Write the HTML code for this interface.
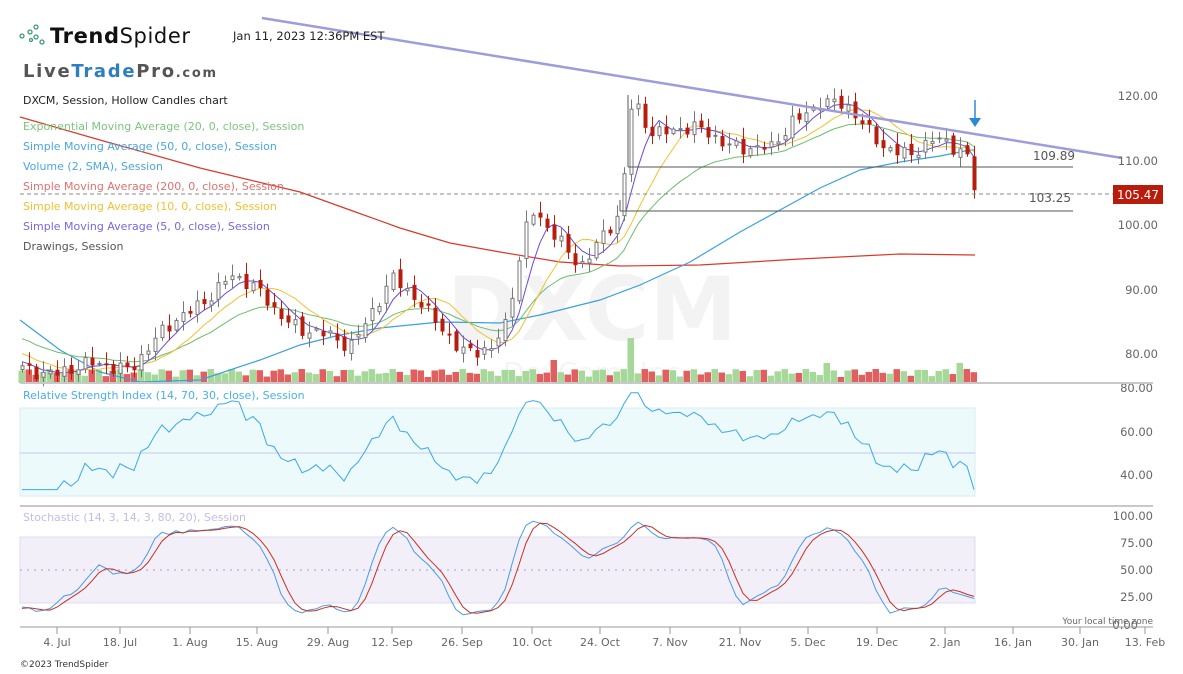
<!DOCTYPE html>
<html><head><meta charset="utf-8"><style>
body{margin:0;background:#fff;width:1183px;height:674px;overflow:hidden;font-family:"DejaVu Sans","Liberation Sans",sans-serif}
svg{display:block}
</style></head><body>
<svg id="s" width="1183" height="674" xmlns="http://www.w3.org/2000/svg" font-family="DejaVu Sans, Liberation Sans, sans-serif">
<rect width="1183" height="674" fill="#fff"/>
<text x="592" y="340" font-size="88" font-weight="bold" fill="#f3f3f3" text-anchor="middle">DXCM</text>
<text x="592" y="382" font-size="28" fill="#f5f5f5" text-anchor="middle">DexCom, Inc</text>
<rect x="20" y="408" width="955" height="88" fill="#ecfafb" stroke="#d8eef2"/>
<line x1="20" y1="453" x2="975" y2="453" stroke="#c8c8ee"/>
<rect x="20" y="537" width="955" height="66" fill="#f2eff9" stroke="#e0dbef"/>
<line x1="20" y1="570" x2="975" y2="570" stroke="#a89ee0" stroke-dasharray="2,5"/>
<g id="g"></g>
<line x1="262" y1="18" x2="1122" y2="158" stroke="#9d9ddb" stroke-width="2.5"/>
<line x1="628" y1="167" x2="1073" y2="167" stroke="#555"/>
<line x1="628" y1="167" x2="628" y2="95" stroke="#555"/>
<line x1="620" y1="211" x2="1073" y2="211" stroke="#555"/>
<line x1="620" y1="211" x2="620" y2="200" stroke="#555"/>
<line x1="20" y1="194" x2="1113" y2="194" stroke="#888" stroke-dasharray="4,3"/>
<line x1="975" y1="100" x2="975" y2="122" stroke="#2a8ad4" stroke-width="1.5"/>
<polygon points="969,118 981,118 975,127" fill="#2a8ad4"/>
<text x="1054" y="160" font-size="12" fill="#555" text-anchor="middle">109.89</text>
<text x="1050" y="202" font-size="12" fill="#555" text-anchor="middle">103.25</text>
<rect x="1113" y="185" width="50" height="19" fill="#b71c0c"/>
<text x="1138" y="199" font-size="12" fill="#fff" text-anchor="middle">105.47</text>
<g font-size="11.5" fill="#666" text-anchor="end">
<text x="1158" y="100">120.00</text><text x="1158" y="165">110.00</text><text x="1158" y="229">100.00</text><text x="1158" y="294">90.00</text><text x="1158" y="358">80.00</text>
<text x="1153" y="392">80.00</text><text x="1153" y="436">60.00</text><text x="1153" y="479">40.00</text>
<text x="1153" y="520">100.00</text><text x="1153" y="547">75.00</text><text x="1153" y="574">50.00</text><text x="1153" y="601">25.00</text><text x="1138" y="629">0.00</text>
</g>
<line x1="20" y1="383" x2="1153" y2="383" stroke="#c8c8c8" stroke-width="2"/>
<line x1="20" y1="506" x2="1153" y2="506" stroke="#c8c8c8" stroke-width="2"/>
<line x1="20" y1="627" x2="1153" y2="627" stroke="#999"/>
<g id="ax" font-size="11" fill="#666" text-anchor="middle"></g>
<text x="1153" y="624" font-size="9" fill="#666" text-anchor="end">Your local time zone</text>
<text x="20" y="667" font-size="9" fill="#333">©2023 TrendSpider</text>
<g fill="none" stroke="#3a9a7a" stroke-width="1.3"><circle cx="22" cy="36" r="2"/><circle cx="30" cy="32" r="2"/><circle cx="36" cy="27" r="2"/><circle cx="36" cy="37" r="2"/><circle cx="42" cy="42" r="2"/><circle cx="31" cy="40" r="1.5"/></g>
<text x="50" y="43" font-size="21" fill="#111" textLength="140"><tspan font-weight="bold">Trend</tspan>Spider</text>
<text x="233" y="40" font-size="11.5" fill="#222">Jan 11, 2023 12:36PM EST</text>
<text x="23" y="77" font-size="18" font-weight="bold" fill="#555" textLength="193">Live<tspan fill="#2d7fc0">Trade</tspan>Pro<tspan font-size="13">.com</tspan></text>
<g font-size="11">
<text x="23" y="104" fill="#222">DXCM, Session, Hollow Candles chart</text>
<text x="23" y="130" fill="#7cc47c">Exponential Moving Average (20, 0, close), Session</text>
<text x="23" y="150" fill="#4aa6e0">Simple Moving Average (50, 0, close), Session</text>
<text x="23" y="170" fill="#4aa6e0">Volume (2, SMA), Session</text>
<text x="23" y="190" fill="#e07070">Simple Moving Average (200, 0, close), Session</text>
<text x="23" y="210" fill="#f2c030">Simple Moving Average (10, 0, close), Session</text>
<text x="23" y="230" fill="#7a66e0">Simple Moving Average (5, 0, close), Session</text>
<text x="23" y="250" fill="#555">Drawings, Session</text>
<text x="23" y="399" fill="#4ab0e8">Relative Strength Index (14, 70, 30, close), Session</text>
<text x="23" y="521" fill="#c4bce8">Stochastic (14, 3, 14, 3, 80, 20), Session</text>
</g>
</svg>
<script>
(function(){
var NS="http://www.w3.org/2000/svg",g=document.getElementById('g');
function el(t,a){var e=document.createElementNS(NS,t);for(var k in a)e.setAttribute(k,a[k]);g.appendChild(e);return e;}
function P(y){return 120-(y-96)/6.45;}
function Y(p){return 96+(120-p)*6.45;}
var keys=[[-60,330],[-20,345],[20,372],[80,368],[130,365],[200,300],[230,278],[260,292],[290,320],[300,332],[350,342],[380,300],[392,282],[420,300],[440,322],[460,356],[490,350],[505,320],[518,262],[530,212],[545,228],[580,262],[600,240],[620,218],[632,100],[650,128],[700,132],[750,148],[772,152],[792,120],[820,100],[850,112],[880,140],[910,158],[940,138],[960,146],[970,160],[975,194]];
function interp(x){for(var k=0;k<keys.length-1;k++){if(x<=keys[k+1][0]){var a=keys[k],b=keys[k+1],t=(x-a[0])/(b[0]-a[0]);return a[1]+t*(b[1]-a[1]);}}return keys[keys.length-1][1];}
var N=137,pre=60,C=[],O=[],H=[],L=[];
for(var i=-pre;i<N;i++){var x=22+7*i;var n=Math.sin(i*2.3)*1.1+Math.sin(i*5.7+1)*0.9+Math.cos(i*1.3)*0.6;var c=P(interp(x))+n*0.7;if(i==N-1)c=105.47;C.push(c);}
for(var i=0;i<C.length;i++){var o=i?C[i-1]+Math.sin(i*3.1)*0.5:C[i];O.push(o);var w=Math.abs(Math.sin(i*7.7))*1.5+0.3;H.push(Math.max(o,C[i])+w);L.push(Math.min(o,C[i])-w*0.8);}
for(var i=pre;i<C.length;i++){var x=22+7*(i-pre);var up=C[i]>=O[i];var h=6+Math.abs(Math.sin(i*4.1))*8;if(i-pre==87)h=45;if(i-pre==76)h=23;if(i-pre==115||i-pre==134)h=20;el('rect',{x:x-3.5,y:383-h,width:6.5,height:h,fill:up?'#a6d89a':'#e06060'});}
function line(pts,col,w){el('path',{d:'M'+pts.map(function(p){return p[0].toFixed(1)+','+p[1].toFixed(1)}).join('L'),fill:'none',stroke:col,'stroke-width':w||1});}
function sma(n){var r=[];for(var i=pre;i<C.length;i++){var s=0;for(var j=0;j<n;j++)s+=C[i-j];r.push([22+7*(i-pre),Y(s/n)]);}return r;}
var e=C[0],ema=[];for(var i=0;i<C.length;i++){e=e+(C[i]-e)*2/21;if(i>=pre)ema.push([22+7*(i-pre),Y(e)]);}
line([[20,117],[100,140],[200,168],[300,192],[350,210],[400,228],[450,243],[500,252],[560,262],[620,266],[700,265],[800,259],[900,254],[975,255]],'#d83a2a',1.2);
line([[20,320],[60,350],[100,372],[140,382],[200,380],[260,360],[300,345],[340,335],[380,328],[440,322],[500,323],[540,315],[600,300],[640,285],[690,262],[740,232],[780,210],[820,188],[860,170],[900,162],[940,156],[970,150],[975,150]],'#3aa0e0',1.2);
line(ema,'#6cbd6c');line(sma(10),'#f2c030');line(sma(5),'#6a4ae0');
for(var i=pre;i<C.length;i++){var x=22+7*(i-pre)+0.5,up=C[i]>=O[i],col=up?'#777':'#b71c0c';
el('line',{x1:x,y1:Y(H[i]),x2:x,y2:Y(L[i]),stroke:col});
var t=Y(Math.max(O[i],C[i])),b=Y(Math.min(O[i],C[i]));if(b-t<1)b=t+1;
el('rect',{x:x-1.5,y:t,width:3,height:b-t,fill:up?'#fff':col,stroke:col});}
var rs=[],ag=0,al=0;for(var i=1;i<C.length;i++){var d=C[i]-C[i-1];ag=(ag*13+Math.max(d,0))/14;al=(al*13+Math.max(-d,0))/14;if(i>=pre){var r=100-100/(1+ag/(al||1e-6));r=50+(r-50)*0.9;r=Math.max(33,Math.min(78,r));rs.push([22+7*(i-pre),453-(r-50)*2.15]);}}
line(rs,'#3aa8e8');
var K=[];for(var i=0;i<C.length;i++){if(i<14){K.push(50);continue;}var hh=-1e9,ll=1e9;for(var j=0;j<14;j++){hh=Math.max(hh,H[i-j]);ll=Math.min(ll,L[i-j]);}K.push((C[i]-ll)/(hh-ll)*100);}
function sm(a){var r=[];for(var i=0;i<a.length;i++){var s=0,c=0;for(var j=0;j<3&&i-j>=0;j++){s+=a[i-j];c++;}r.push(s/c);}return r;}
var k=sm(K),d=sm(k);function sy(v){return 625-Math.max(3,Math.min(97,v))*1.09;}
var kp=[],dp=[];for(var i=pre;i<C.length;i++){kp.push([22+7*(i-pre),sy(k[i])]);dp.push([22+7*(i-pre),sy(d[i])]);}
line(kp,'#4a9ae8');line(dp,'#c83020');
var ax=document.getElementById('ax');var lb=[[57,'4. Jul'],[120,'18. Jul'],[190,'1. Aug'],[257,'15. Aug'],[328,'29. Aug'],[392,'12. Sep'],[462,'26. Sep'],[532,'10. Oct'],[600,'24. Oct'],[670,'7. Nov'],[740,'21. Nov'],[808,'5. Dec'],[877,'19. Dec'],[945,'2. Jan'],[1013,'16. Jan'],[1080,'30. Jan'],[1145,'13. Feb']];
lb.forEach(function(l){var t=document.createElementNS(NS,'text');t.setAttribute('x',l[0]);t.setAttribute('y',646);t.textContent=l[1];ax.appendChild(t);var q=document.createElementNS(NS,'line');q.setAttribute('x1',l[0]);q.setAttribute('x2',l[0]);q.setAttribute('y1',627);q.setAttribute('y2',634);q.setAttribute('stroke','#999');ax.appendChild(q);});
})();
</script>
</body></html>
